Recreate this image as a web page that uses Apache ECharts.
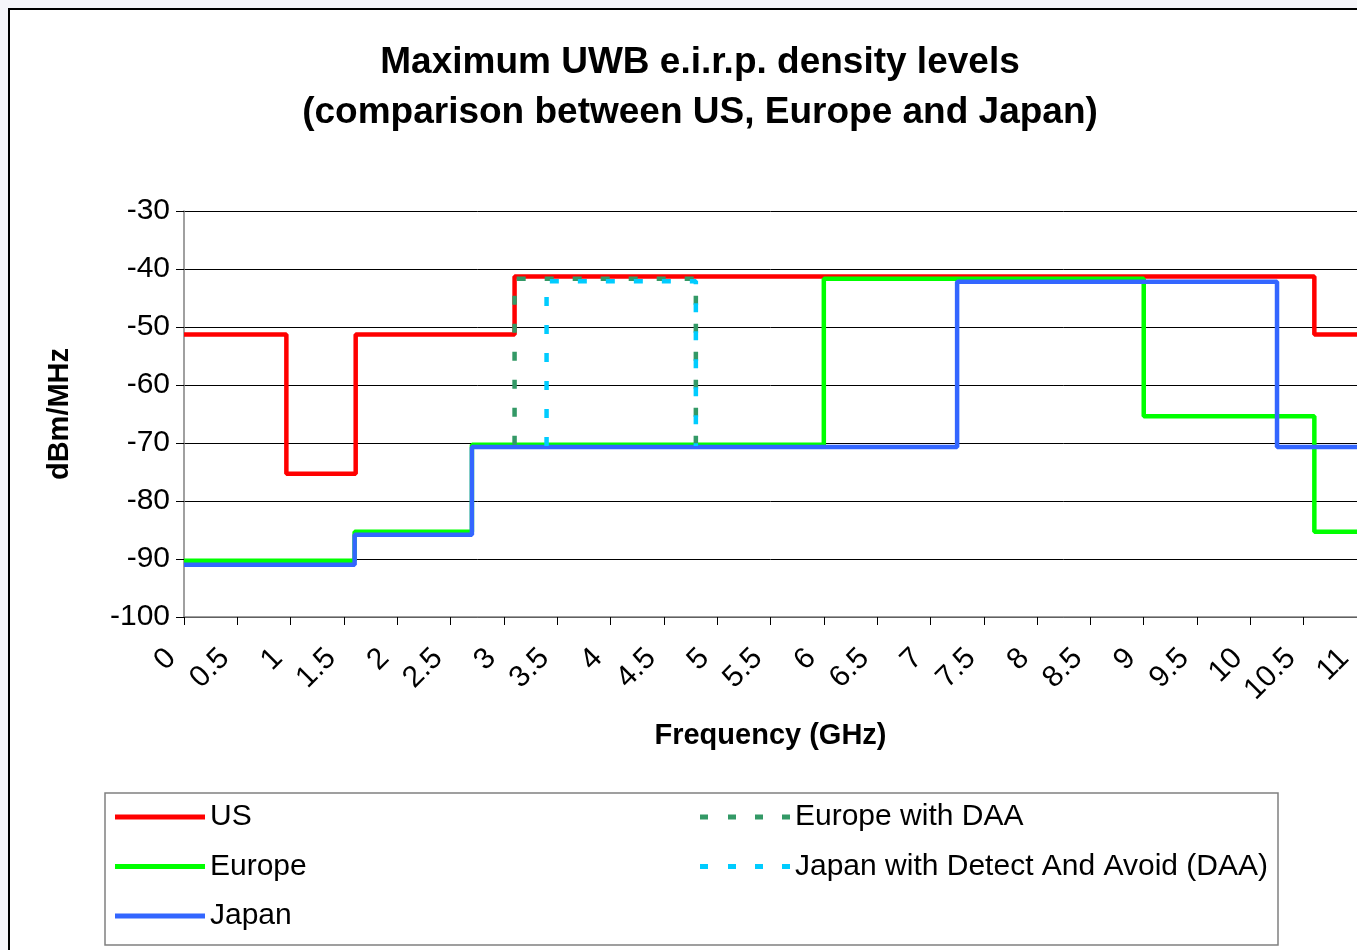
<!DOCTYPE html>
<html>
<head>
<meta charset="utf-8">
<title>Maximum UWB e.i.r.p. density levels</title>
<script src="https://cdn.jsdelivr.net/npm/echarts@6/dist/echarts.min.js"></script>
<style>
  html, body { margin: 0; padding: 0; background: #ffffff; overflow: hidden; }
  #chart { width: 1357px; height: 950px; }
</style>
</head>
<body>
<div id="chart"></div>
<script>
// Frequency band edges (GHz) and the e.i.r.p. density limit (dBm/MHz) inside each band
const usEdges = [0, 0.96, 1.61, 3.1, 10.6, 11];
const usLevels = [-51.3, -75.3, -51.3, -41.3, -51.3];

const europeEdges = [0, 1.6, 2.7, 6.0, 9.0, 10.6, 11];
const europeLevels = [-90.3, -85.3, -70.3, -41.7, -65.4, -85.3];

const japanEdges = [0, 1.6, 2.7, 7.25, 10.25, 11];
const japanLevels = [-91.0, -85.8, -70.7, -42.2, -70.7];

// Detect-and-avoid windows: outline of the raised limit
const europeDaaX = [3.1, 3.1, 4.8, 4.8];
const europeDaaY = [-70.3, -41.7, -41.7, -70.3];

const japanDaaX = [3.4, 3.4, 4.8, 4.8];
const japanDaaY = [-70.5, -42.1, -42.1, -70.5];

const seriesNames = ['US', 'Europe', 'Japan', 'Europe with DAA', 'Japan with Detect And Avoid (DAA)'];
const seriesColors = ['#FF0000', '#00FF00', '#3366FF', '#339966', '#00CCFF'];

// Legend keys: a solid bar, or four short dashes, across the key width
const SOLID_KEY = 'path://M0,0h90v5h-90z';
const DASH_KEY = 'path://M0,0h8v5h-8z M28,0h8v5h-8z M55,0h8v5h-8z M82,0h8v5h-8z';

// Each band holds its level until the next edge; the last edge closes the final band
function stepPoints(edges, levels) {
  return edges.map((x, i) => [x, levels[Math.min(i, levels.length - 1)]]);
}
function pairPoints(xs, ys) {
  return xs.map((x, i) => [x, ys[i]]);
}

const FONT = '"Liberation Sans", Arial, sans-serif';
const chart = echarts.init(document.getElementById('chart'), null, { renderer: 'canvas' });

function solidSeries(idx, data) {
  return {
    name: seriesNames[idx],
    type: 'line',
    step: 'end',
    data: data,
    symbol: 'none',
    color: seriesColors[idx],
    lineStyle: { width: 4.5, color: seriesColors[idx] },
    z: 2 + idx
  };
}
function dashedSeries(idx, data) {
  return {
    name: seriesNames[idx],
    type: 'line',
    data: data,
    symbol: 'none',
    color: seriesColors[idx],
    lineStyle: { width: 4.5, color: seriesColors[idx], type: [9, 19] },
    z: 2 + idx
  };
}

const legendText = { fontFamily: FONT, fontSize: 30, color: '#000000' };

const option = {
  backgroundColor: '#f6f6fa',
  animation: false,
  graphic: [
    {
      type: 'rect',
      shape: { x: 9, y: 9, width: 1400, height: 1000 },
      style: { fill: '#ffffff', stroke: '#000000', lineWidth: 2 },
      z: -10
    },
    {
      type: 'rect',
      shape: { x: 105, y: 793, width: 1173, height: 152 },
      style: { fill: '#ffffff', stroke: '#808080', lineWidth: 1.5 },
      z: -5
    }
  ],
  title: {
    text: 'Maximum UWB e.i.r.p. density levels\n(comparison between US, Europe and Japan)',
    left: 695,
    top: 33,
    textAlign: 'center',
    textStyle: {
      fontFamily: FONT,
      fontWeight: 'bold',
      fontSize: 37,
      lineHeight: 50,
      color: '#000000'
    }
  },
  legend: [
    {
      data: seriesNames.slice(0, 3).map(n => ({ name: n, icon: SOLID_KEY })),
      orient: 'vertical',
      left: 110,
      top: 797,
      itemWidth: 90,
      itemHeight: 5,
      itemGap: 19.5,
      textStyle: legendText
    },
    {
      data: seriesNames.slice(3).map(n => ({ name: n, icon: DASH_KEY })),
      orient: 'vertical',
      left: 695,
      top: 797,
      itemWidth: 90,
      itemHeight: 5,
      itemGap: 19.5,
      textStyle: legendText
    }
  ],
  grid: { left: 184, right: 0, top: 211, bottom: 333, containLabel: false, outerBoundsMode: 'none' },
  xAxis: {
    type: 'value',
    min: 0,
    max: 11,
    interval: 0.5,
    name: 'Frequency (GHz)',
    nameLocation: 'middle',
    nameGap: 104,
    nameTextStyle: { fontFamily: FONT, fontWeight: 'bold', fontSize: 29, color: '#000000' },
    axisLine: { show: true, onZero: false, lineStyle: { color: '#808080', width: 1.5 } },
    axisTick: { show: true, length: 8, lineStyle: { color: '#000000' } },
    splitLine: { show: false },
    axisLabel: {
      rotate: 45,
      margin: 24,
      padding: [0, 18, 0, 0],
      fontFamily: FONT,
      fontSize: 30,
      color: '#000000',
      showMaxLabel: true,
      showMinLabel: true,
      hideOverlap: false,
      formatter: v => String(v)
    }
  },
  yAxis: {
    type: 'value',
    min: -100,
    max: -30,
    interval: 10,
    name: 'dBm/MHz',
    nameLocation: 'middle',
    nameGap: 110,
    nameTextStyle: { fontFamily: FONT, fontWeight: 'bold', fontSize: 29, color: '#000000' },
    axisLine: { show: true, lineStyle: { color: '#808080', width: 1.5 } },
    axisTick: { show: true, length: 8, lineStyle: { color: '#000000' } },
    splitLine: { show: true, lineStyle: { color: '#000000', width: 1 } },
    axisLabel: { margin: 14, fontFamily: FONT, fontSize: 30, color: '#000000' }
  },
  series: [
    solidSeries(0, stepPoints(usEdges, usLevels)),
    solidSeries(1, stepPoints(europeEdges, europeLevels)),
    solidSeries(2, stepPoints(japanEdges, japanLevels)),
    dashedSeries(3, pairPoints(europeDaaX, europeDaaY)),
    dashedSeries(4, pairPoints(japanDaaX, japanDaaY))
  ]
};

chart.setOption(option);
</script>
</body>
</html>
